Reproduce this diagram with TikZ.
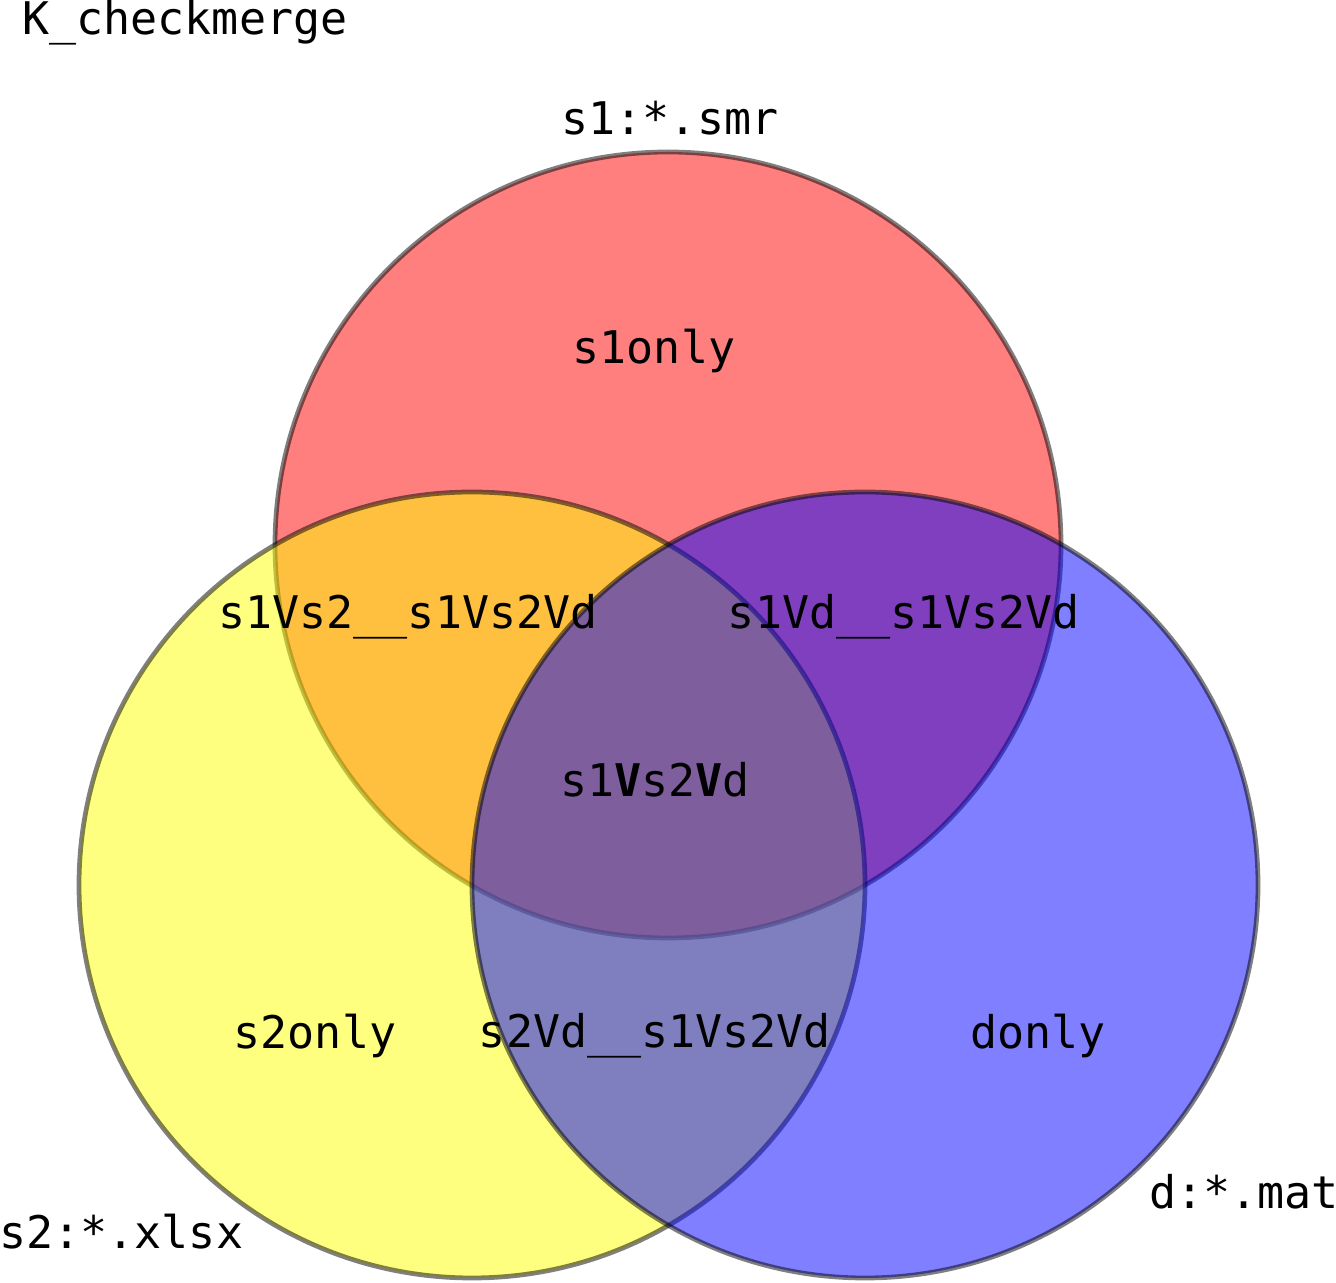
\documentclass[tikz,border=0pt]{standalone}
\usepackage{fontspec}
\setmonofont{DejaVu Sans Mono}
\definecolor{sonec}{RGB}{255,0,0}
\definecolor{stwoc}{RGB}{255,255,0}
\definecolor{dc}{RGB}{0,0,255}

\begin{document}
\begin{tikzpicture}[font=\ttfamily\fontsize{12.8}{15}\selectfont]
  \def\R{3.93}  % circle radius

  % page frame
  \useasboundingbox (0,0) rectangle (13.36,-12.83);

  % the three sets, drawn half transparent one over the other
  \tikzset{setcirc/.style={draw=black, opacity=0.5, line width=1.35pt}}
  \filldraw[setcirc, fill=sonec] (6.68,-5.45) circle (\R);  % s1
  \filldraw[setcirc, fill=stwoc] (4.72,-8.85) circle (\R); % s2
  \filldraw[setcirc, fill=dc]    (8.65,-8.85) circle (\R);  % d

  % title and set names
  \node[anchor=west] (title) at (0.10,-0.23) {K\_checkmerge};
  \node (nsone) at (6.70,-1.18) {s1:*.smr};
  \node[anchor=west] (nstwo) at (-0.13,-12.32) {s2:*.xlsx};
  \node[anchor=east] (nd) at (13.51,-11.92) {d:*.mat};

  % region labels
  \node (sone)   at (6.54,-3.51)  {s1only};
  \node (sonetwo) at (4.08,-6.17) {s1Vs2\_\_s1Vs2Vd};
  \node (soned)  at (9.04,-6.17)  {s1Vd\_\_s1Vs2Vd};
  \node (sall)   at (6.55,-7.80)  {s1\textbf{V}s2\textbf{V}d};
  \node (stwo)   at (3.15,-10.36) {s2only};
  \node (stwod)  at (6.55,-10.36) {s2Vd\_\_s1Vs2Vd};
  \node (donly)  at (10.38,-10.36) {donly};
\end{tikzpicture}
\end{document}
